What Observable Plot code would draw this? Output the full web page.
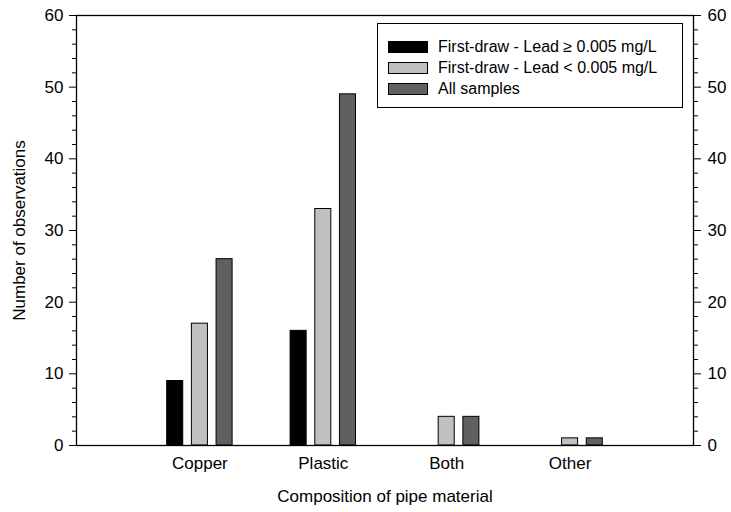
<!DOCTYPE html>
<html>
<head>
<meta charset="utf-8">
<script src="https://cdn.jsdelivr.net/npm/d3@7"></script>
<script src="https://cdn.jsdelivr.net/npm/@observablehq/plot@0.6"></script>
<style>
  html, body { margin: 0; padding: 0; background: #fff; }
  #wrap { position: relative; width: 731px; height: 512px; font-family: "Liberation Sans", Arial, sans-serif; }
  #legend { position: absolute; left: 377px; top: 23px; width: 306px; height: 85px; border: 1.3px solid #000; background: #fff; box-sizing: border-box; padding-top: 12px; }
  .row { display: flex; align-items: center; height: 21px; padding-left: 10px; font-size: 16px; color: #000; }
  .sw { width: 40px; height: 12px; border: 1px solid #000; box-sizing: border-box; margin-right: 10px; }
</style>
</head>
<body>
<div id="wrap"></div>
<script>
const categories = ["Copper", "Plastic", "Both", "Other"];
const seriesNames = ["First-draw - Lead \u2265 0.005 mg/L", "First-draw - Lead < 0.005 mg/L", "All samples"];
const leadHigh = [9, 16, 0, 0];
const leadLow = [17, 33, 4, 1];
const allSamples = [26, 49, 4, 1];
const seriesColors = ["#000000", "#c0c0c0", "#606060"];
const yMajorTicks = [0, 10, 20, 30, 40, 50, 60];
const yMinorTicks = d3.range(0, 61, 2).filter(v => v % 10 !== 0);

const seriesValues = [leadHigh, leadLow, allSamples];
const offsets = [-0.2, 0, 0.2];
const halfWidth = 0.065;

const rows = [];
categories.forEach((c, i) => {
  seriesValues.forEach((vals, s) => {
    if (vals[i] > 0) {
      const pos = i + 1 + offsets[s];
      rows.push({category: c, series: seriesNames[s], value: vals[i], x1: pos - halfWidth, x2: pos + halfWidth});
    }
  });
});

const font = "Liberation Sans, Arial, sans-serif";
const chart = Plot.plot({
  width: 731,
  height: 512,
  marginLeft: 76,
  marginRight: 38,
  marginTop: 15,
  marginBottom: 67,
  style: {fontFamily: font, fontSize: "17px", color: "#000", background: "#fff"},
  x: {domain: [0, 5]},
  y: {domain: [0, 60]},
  color: {domain: seriesNames, range: seriesColors},
  marks: [
    Plot.rectY(rows, {x1: "x1", x2: "x2", y: "value", fill: "series", stroke: "#000", strokeWidth: 1}),
    Plot.axisY({ticks: yMinorTicks, tickSize: 4, tickFormat: () => "", anchor: "left", label: null}),
    Plot.axisY({ticks: yMajorTicks, tickSize: 7, tickPadding: 6, anchor: "left", label: "Number of observations", labelAnchor: "center", labelArrow: "none", labelOffset: 64, fontSize: 17}),
    Plot.axisY({ticks: yMinorTicks, tickSize: 4, tickFormat: () => "", anchor: "right", label: null}),
    Plot.axisY({ticks: yMajorTicks, tickSize: 7, tickPadding: 7, anchor: "right", label: null, fontSize: 17}),
    Plot.axisX({ticks: [1, 2, 3, 4], tickFormat: d => categories[d - 1], tickSize: 0, tickPadding: 11, label: "Composition of pipe material", labelAnchor: "center", labelArrow: "none", labelOffset: 56, fontSize: 17}),
    Plot.frame({stroke: "#000", strokeWidth: 1.3})
  ]
});

const wrap = document.getElementById("wrap");
wrap.appendChild(chart);
const legend = document.createElement("div");
legend.id = "legend";
seriesNames.forEach((name, s) => {
  const row = document.createElement("div");
  row.className = "row";
  const sw = document.createElement("div");
  sw.className = "sw";
  sw.style.background = seriesColors[s];
  const t = document.createElement("span");
  t.textContent = name;
  row.appendChild(sw);
  row.appendChild(t);
  legend.appendChild(row);
});
wrap.appendChild(legend);
</script>
</body>
</html>
